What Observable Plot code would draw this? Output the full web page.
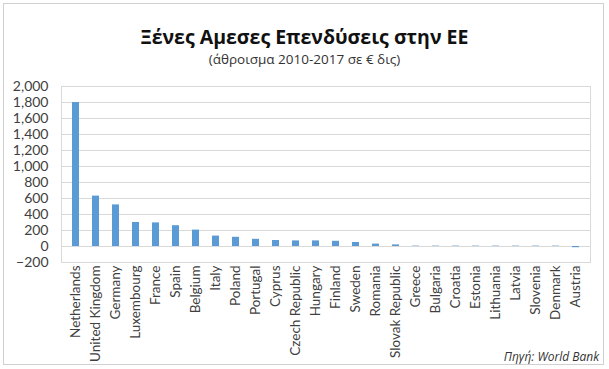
<!DOCTYPE html>
<html>
<head>
<meta charset="utf-8">
<script src="https://cdn.jsdelivr.net/npm/d3@7"></script>
<script src="https://cdn.jsdelivr.net/npm/@observablehq/plot@0.6"></script>
<style>
  html, body { margin: 0; padding: 0; background: #fff; }
  #wrap { position: relative; width: 609px; height: 369px; overflow: hidden; font-family: Lato, "Open Sans", sans-serif; }
  #border { position: absolute; left: 3px; top: 3px; width: 601px; height: 362px; border: 1px solid #d0d0d0; box-sizing: border-box; pointer-events: none; }
  #title { position: absolute; left: 0; width: 609px; top: 24px; text-align: center; font-family: "Open Sans", sans-serif; font-weight: bold; font-size: 19.5px; color: #111; line-height: 26px; }
  #subtitle { position: absolute; left: 0; width: 609px; top: 50px; text-align: center; font-family: "Open Sans", sans-serif; font-size: 13.5px; color: #333; line-height: 18px; }
  #caption { position: absolute; right: 10px; top: 349px; font-family: "Open Sans", sans-serif; font-style: italic; font-size: 12px; color: #333; line-height: 15px; }
  #chart { position: absolute; left: 0; top: 0; }
</style>
</head>
<body>
<div id="wrap">
  <div id="chart"></div>
  <div id="border"></div>
  <div id="title">Ξένες Αμεσες Επενδύσεις στην ΕΕ</div>
  <div id="subtitle">(άθροισμα 2010-2017 σε € δις)</div>
  <div id="caption">Πηγή: World Bank</div>
</div>
<script>
const countries = ["Netherlands","United Kingdom","Germany","Luxembourg","France","Spain","Belgium","Italy","Poland","Portugal","Cyprus","Czech Republic","Hungary","Finland","Sweden","Romania","Slovak Republic","Greece","Bulgaria","Croatia","Estonia","Lithuania","Latvia","Slovenia","Denmark","Austria"];
const values = [1800,630,520,300,295,260,205,130,115,90,75,70,70,65,50,30,20,5,5,5,5,5,5,5,5,-15];
const yTicks = [-200,0,200,400,600,800,1000,1200,1400,1600,1800,2000];

const data = countries.map((c, i) => ({country: c, value: values[i]}));

const chart = Plot.plot({
  width: 609,
  height: 369,
  marginTop: 86,
  marginBottom: 107,
  marginLeft: 61,
  marginRight: 19,
  style: {fontFamily: "Lato, 'Open Sans', sans-serif", fontSize: "13px", color: "#404040", background: "transparent"},
  x: {domain: countries, paddingInner: 0.63, paddingOuter: 0.315, label: null},
  y: {domain: [-200, 2000], label: null},
  marks: [
    Plot.ruleY(yTicks, {stroke: "#d9d9d9", strokeWidth: 1}),
    Plot.frame({stroke: "#d9d9d9"}),
    Plot.barY(data, {x: "country", y: "value", fill: "#5B9BD5"}),
    Plot.axisX({tickRotate: -90, tickSize: 0, tickPadding: 3, label: null, fontSize: 13.5}),
    Plot.axisY({ticks: yTicks, tickFormat: d3.format(","), tickSize: 0, tickPadding: 13, label: null, fontSize: 14})
  ]
});
document.getElementById("chart").appendChild(chart);
</script>
</body>
</html>
